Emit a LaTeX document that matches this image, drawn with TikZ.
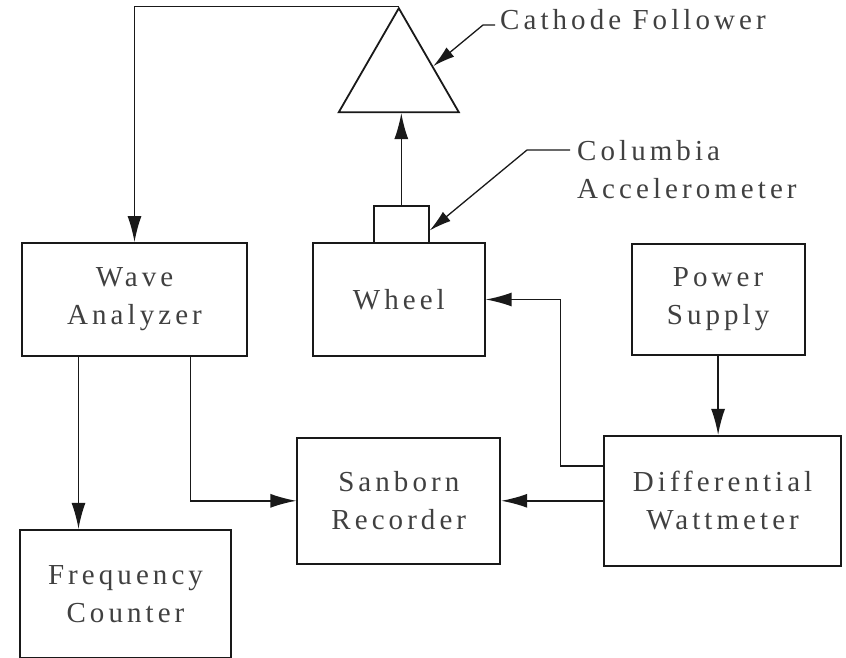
\documentclass[tikz,border=0pt]{standalone}
\usepackage{fontspec}
\setmainfont{Liberation Serif}[LetterSpace=14]
\usetikzlibrary{arrows.meta,positioning,shapes.geometric,calc}

\begin{document}
\begin{tikzpicture}[
      x=1pt, y=-1pt,
      block_box/.style={
         rectangle,
         draw=black!90,
         text=black!75,
         line width=1.8pt,
         align=center,
         inner sep=0pt,
         font=\fontsize{29}{38}\selectfont},
      tri_node/.style={
         regular polygon,
         regular polygon sides=3,
         draw=black!90,
         line width=1.8pt,
         inner sep=0pt,
         minimum size=138.6pt},
      label_text/.style={
         inner sep=0pt,
         text=black!75,
         align=left,
         font=\fontsize{29}{38}\selectfont},
      arrow_black/.style={
         -{Latex[length=26pt,width=14pt]},
         draw=black!90,
         line width=1.5pt},
      leader_line/.style={
         -{Latex[length=22pt,width=12pt]},
         draw=black!90,
         line width=1.3pt}
]
      \useasboundingbox (0,0) rectangle (846,658);

      %top row
      \node[block_box,minimum width=225pt,minimum height=113pt] (wa) at (134.5,299.5) {Wave\\Analyzer};
      \node[block_box,minimum width=172pt,minimum height=113pt,right=64pt of wa] (wh) {Wheel};
      \node[block_box,minimum width=173pt,minimum height=111pt,right=145pt of wh] (ps) {Power\\Supply};

      %bottom row
      \node[block_box,minimum width=203pt,minimum height=126pt,below=80pt of wh] (sr) {Sanborn\\Recorder};
      \node[block_box,minimum width=237pt,minimum height=130pt,right=102pt of sr] (dw) {Differential\\Wattmeter};
      \node[block_box,minimum width=211pt,minimum height=128pt,below=172pt of wa,xshift=-9pt] (fc) {Frequency\\Counter};

      %accelerometer and cathode follower
      \node[block_box,minimum width=55pt,minimum height=37pt,above=-1.8pt of wh,xshift=2.5pt] (acc) {};
      \node[tri_node,above=92pt of acc,xshift=-2.5pt] (cf) {};

      %labels
      \node[label_text,anchor=base west] (cfl) at (500,30) {Cathode Follower};
      \node[label_text,anchor=north west] (cal) at (577,140) {Columbia\\Accelerometer};

      \coordinate (cfs) at ([xshift=-5pt,yshift=5pt]cfl.base west);
      \coordinate (cfk) at ([xshift=-12pt]cfs);
      \coordinate (cfp) at ($(cf.corner 1)!0.56!(cf.corner 3)$);
      \coordinate (cas) at ([xshift=-7pt,yshift=-10pt]cal.north west);
      \coordinate (cak) at ([xshift=-43pt]cas);
      \draw[leader_line] (cfs) -- (cfk) -- (cfp);
      \draw[leader_line] (cas) -- (cak) -- ([yshift=-6pt]acc.east);

      %signal lines
      \coordinate (wal) at ([xshift=-56pt]wa.south);
      \coordinate (war) at ([xshift=56pt]wa.south);
      \coordinate (knee) at ([xshift=75pt]wh.east);

      \draw[arrow_black] (cf.corner 1) -| (wa.north);
      \foreach \i/\j in {% start/end
         acc.north/acc.north |- cf.side 2,
         wal/wal |- fc.north,
         ps.south/ps.south |- dw.north,
         dw.west |- sr.west/sr.east}
      \draw[arrow_black] (\i) -- (\j);
      \draw[arrow_black] (war) |- (sr.west);
      \draw[arrow_black] ([yshift=35pt]dw.west) -| (knee) -- (wh.east);
\end{tikzpicture}
\end{document}
